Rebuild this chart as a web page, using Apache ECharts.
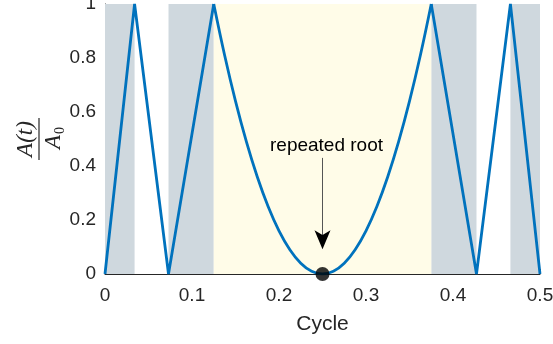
<!DOCTYPE html>
<html>
<head>
<meta charset="utf-8">
<script src="https://cdn.jsdelivr.net/npm/echarts@6/dist/echarts.min.js"></script>
<style>
  html, body { margin: 0; padding: 0; background: #fff; }
  #chart { width: 553px; height: 344px; }
</style>
</head>
<body>
<div id="chart"></div>
<script>
// cycle positions and normalised amplitude
const leftCycle = [0, 0.034, 0.073, 0.125]
const leftAmp = [0, 1, 0, 1]
const midCycle = [0.125, 0.1375, 0.15, 0.1625, 0.175, 0.1875, 0.2, 0.2125, 0.225, 0.2375, 0.25,
  0.2625, 0.275, 0.2875, 0.3, 0.3125, 0.325, 0.3375, 0.35, 0.3625, 0.375]
const midAmp = [1, 0.81, 0.64, 0.49, 0.36, 0.25, 0.16, 0.09, 0.04, 0.01, 0,
  0.01, 0.04, 0.09, 0.16, 0.25, 0.36, 0.49, 0.64, 0.81, 1]
const rightCycle = [0.375, 0.427, 0.466, 0.5]
const rightAmp = [1, 0, 1, 0]

// shaded bands
const greyBands = [[0, 0.034], [0.073, 0.125], [0.375, 0.427], [0.466, 0.5]]
const yellowBands = [[0.125, 0.375]]

const rootPoint = [0.25, 0]

const zip = (xs, ys) => xs.map((x, i) => [x, ys[i]])
const bands = (list, color) => list.map(b => [
  { xAxis: b[0], itemStyle: { color } },
  { xAxis: b[1] }
])

const lineColor = '#0072BD'
const textColor = '#262626'
const font = 'Liberation Sans, Arial, sans-serif'

const chart = echarts.init(document.getElementById('chart'))

const lineSeries = (data, smooth) => ({
  type: 'line',
  data,
  smooth,
  showSymbol: false,
  symbol: 'none',
  lineStyle: { color: lineColor, width: 2.8 },
  z: 3
})

chart.setOption({
  animation: false,
  grid: { left: 105, right: 13, top: 4, bottom: 70, outerBoundsMode: 'none' },
  xAxis: {
    type: 'value',
    min: 0,
    max: 0.5,
    interval: 0.1,
    name: 'Cycle',
    nameLocation: 'middle',
    nameGap: 40,
    nameTextStyle: { color: textColor, fontSize: 21, fontFamily: font },
    axisLine: { lineStyle: { color: textColor, width: 1 } },
    axisTick: { inside: true, length: 5, lineStyle: { color: textColor } },
    axisLabel: {
      color: textColor, fontSize: 19, fontFamily: font, margin: 12,
      formatter: v => String(+v.toFixed(1))
    },
    splitLine: { show: false }
  },
  yAxis: {
    type: 'value',
    min: 0,
    max: 1,
    interval: 0.2,
    axisLine: { show: true, lineStyle: { color: textColor, width: 1 } },
    axisTick: { show: true, inside: true, length: 5, lineStyle: { color: textColor } },
    axisLabel: {
      color: textColor, fontSize: 19, fontFamily: font, margin: 9,
      formatter: v => String(+v.toFixed(1))
    },
    splitLine: { show: false }
  },
  series: [
    {
      type: 'line',
      data: [],
      markArea: {
        silent: true,
        data: bands(greyBands, '#CFD8DE').concat(bands(yellowBands, '#FFFCE8'))
      },
      z: 1
    },
    lineSeries(zip(leftCycle, leftAmp), false),
    lineSeries(zip(midCycle, midAmp), 0.4),
    lineSeries(zip(rightCycle, rightAmp), false),
    {
      type: 'scatter',
      data: [rootPoint],
      symbol: 'circle',
      symbolSize: 14,
      itemStyle: { color: '#000' },
      z: 5,
      markLine: {
        silent: true,
        symbol: ['none', 'none'],
        lineStyle: { color: '#555', width: 1, type: 'solid' },
        label: {
          show: true,
          position: 'start',
          formatter: 'repeated root',
          color: '#000',
          fontSize: 19,
          fontFamily: font,
          distance: 3,
          offset: [4, 0]
        },
        data: [[{ coord: [0.25, 0.43] }, { coord: [0.25, 0.1] }]]
      },
      markPoint: {
        silent: true,
        symbol: 'arrow',
        symbolSize: [12, 19],
        symbolRotate: 180,
        itemStyle: { color: '#000' },
        label: { show: false },
        data: [{ coord: [0.25, 0.092] }]
      }
    }
  ],
  graphic: [
    {
      type: 'group',
      x: 39,
      y: 139,
      rotation: Math.PI / 2,
      children: [
        {
          type: 'line',
          shape: { x1: -21, y1: 0, x2: 21, y2: 0 },
          style: { stroke: textColor, lineWidth: 1.2 }
        },
        {
          type: 'text',
          x: 0,
          y: -2,
          style: {
            text: 'A(t)',
            font: 'italic 23px "Liberation Serif", "DejaVu Serif", serif',
            fill: textColor,
            align: 'center',
            verticalAlign: 'bottom'
          }
        },
        {
          type: 'text',
          x: -3,
          y: 3,
          style: {
            text: 'A',
            font: 'italic 23px "Liberation Serif", "DejaVu Serif", serif',
            fill: textColor,
            align: 'center',
            verticalAlign: 'top'
          }
        },
        {
          type: 'text',
          x: 5,
          y: 14,
          style: {
            text: '0',
            font: '14px "Liberation Serif", "DejaVu Serif", serif',
            fill: textColor,
            align: 'left',
            verticalAlign: 'top'
          }
        }
      ]
    }
  ]
})
</script>
</body>
</html>
